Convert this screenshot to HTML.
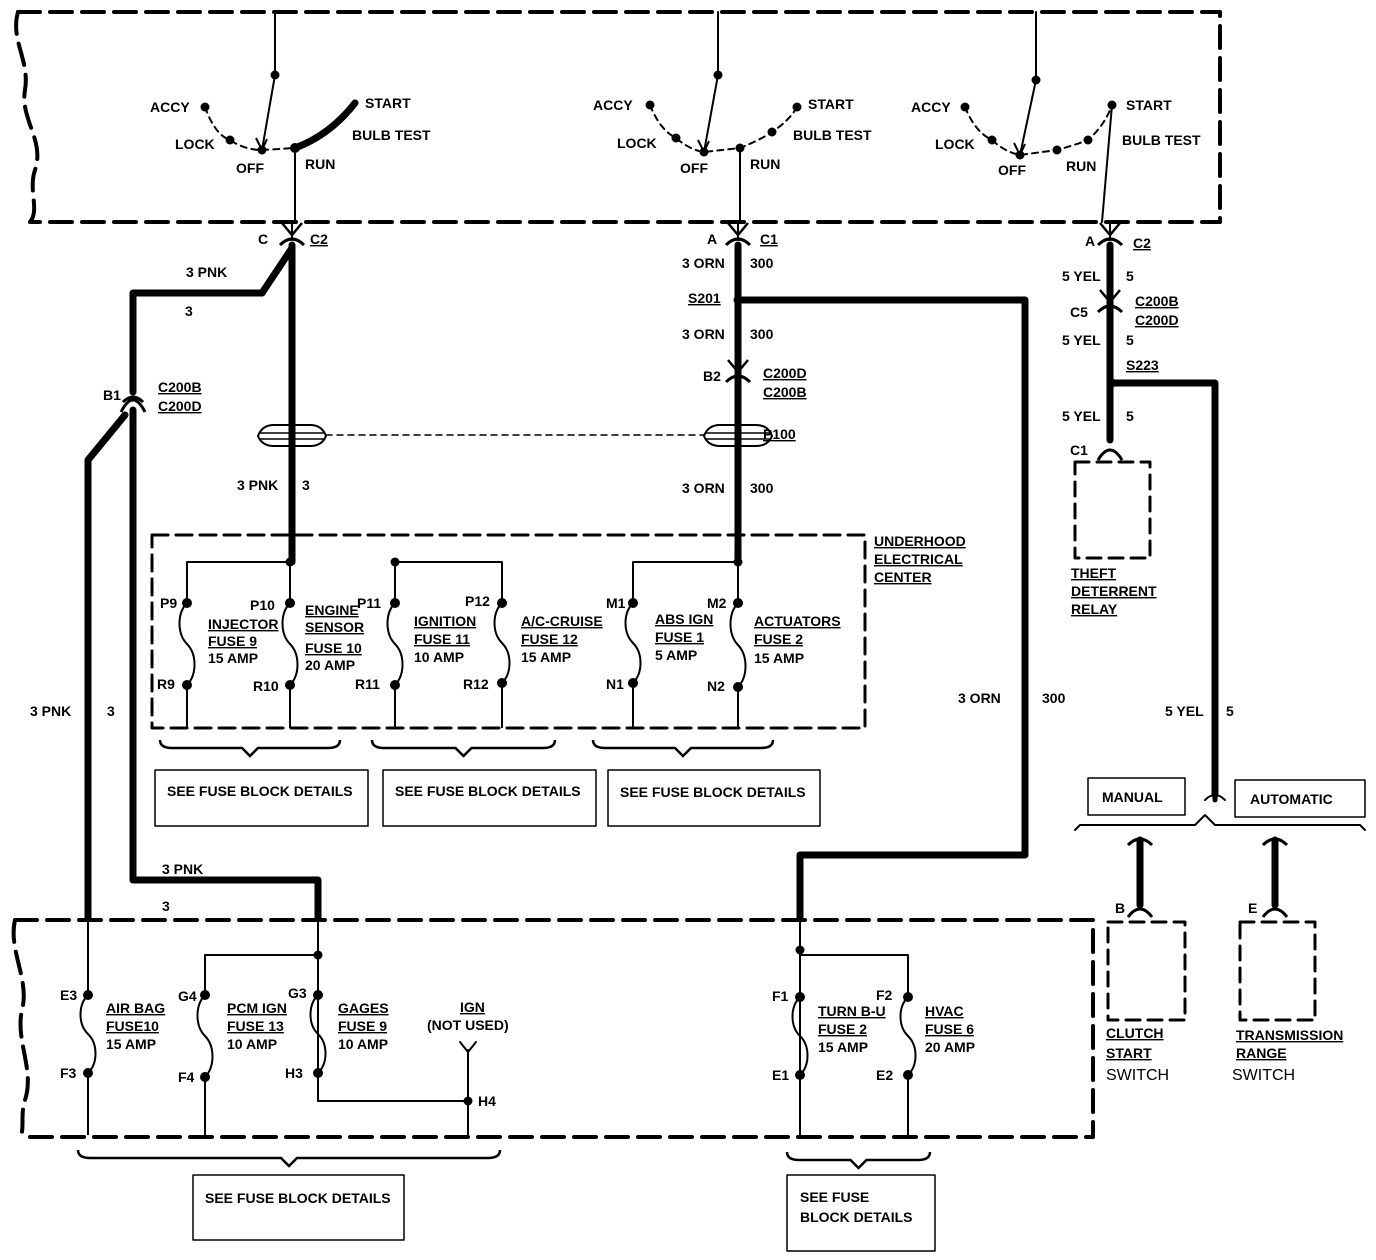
<!DOCTYPE html>
<html><head><meta charset="utf-8"><style>
html,body{margin:0;padding:0;background:#fff}
svg{display:block}
text{font-family:"Liberation Sans",sans-serif;font-weight:bold;font-size:14px;fill:#000}
.u{text-decoration:underline}
</style></head><body>
<svg id="s" width="1376" height="1260" viewBox="0 0 1376 1260" xmlns="http://www.w3.org/2000/svg">
<g fill="none" stroke="#000" stroke-linecap="round" stroke-linejoin="round">
<path d="M18,12 L1220,12 L1220,222 L30,222" stroke-width="4" stroke-dasharray="22,10"/>
<path d="M18,12 C10,40 30,60 25,90 C20,120 45,140 35,170 C28,190 40,210 30,222" stroke-width="4" stroke-dasharray="22,10"/>
<path d="M15,920 L1093,920 L1093,1137 L20,1137" stroke-width="4" stroke-dasharray="22,10"/>
<path d="M15,920 C8,950 30,980 22,1010 C15,1040 35,1070 25,1100 C20,1115 25,1130 20,1137" stroke-width="4" stroke-dasharray="22,10"/>
<path d="M152,535 L865,535 L865,728 L152,728 Z" stroke-width="3" stroke-dasharray="16,8"/>
<rect x="1075" y="462" width="75" height="96" stroke-width="3" stroke-dasharray="14,8"/>
<rect x="1108" y="922" width="77" height="98" stroke-width="3" stroke-dasharray="14,8"/>
<rect x="1240" y="922" width="75" height="98" stroke-width="3" stroke-dasharray="14,8"/>

<path d="M275,12 L275,75 L262,150" stroke-width="2"/>
<path d="M205,107 Q215,135 230,140 Q245,150 262,150 L295,148" stroke-width="2" stroke-dasharray="6,5"/>
<path d="M295,148 Q330,135 355,103" stroke-width="7"/>
<path d="M295,148 L295,222" stroke-width="2"/>
<path d="M718,12 L718,75 L704,152" stroke-width="2"/>
<path d="M650,105 Q660,130 676,138 Q690,150 704,152 L740,148 Q760,140 772,132 Q790,120 797,107" stroke-width="2" stroke-dasharray="6,5"/>
<path d="M740,148 L740,222" stroke-width="2"/>
<path d="M1036,12 L1036,80 L1020,155" stroke-width="2"/>
<path d="M965,107 Q975,132 992,140 Q1005,152 1020,155 L1057,150 Q1075,145 1088,140 Q1105,125 1112,105" stroke-width="2" stroke-dasharray="6,5"/>
<path d="M1112,105 L1102,222" stroke-width="2"/>

<path d="M292,222 L292,240 M738,222 L738,240 M1110,222 L1110,240" stroke-width="2"/>

<path d="M292,245 L292,562" stroke-width="7"/>
<path d="M292,248 L262,293 L133,293 L133,392" stroke-width="7"/>
<path d="M133,410 L133,880 L318,880 L318,918" stroke-width="7"/>
<path d="M125,415 L88,460 L88,918" stroke-width="7"/>
<path d="M738,245 L738,562" stroke-width="7"/>
<path d="M738,300 L1025,300 L1025,855 L800,855 L800,918" stroke-width="7"/>
<path d="M1110,245 L1110,440" stroke-width="7"/>
<path d="M1112,383 L1215,383 L1215,795" stroke-width="7"/>
<path d="M1140,840 L1140,905 M1275,840 L1275,905" stroke-width="7"/>
<path d="M326,435 L704,435" stroke-width="1.5" stroke-dasharray="6,5"/>

<path d="M187,562 L290,562 M395,562 L502,562 M633,562 L738,562" stroke-width="2"/>
<path d="M205,955 L318,955 M800,955 L908,955" stroke-width="2"/>
<path d="M318,920 L318,1101 L468,1101 M468,1050 L468,1135" stroke-width="2"/>
<path d="M460,1042 L468,1052 L476,1042" stroke-width="2"/>
<path d="M800,918 L800,1135" stroke-width="2"/>

<rect x="155" y="770" width="213" height="56" stroke-width="1.5"/>
<rect x="383" y="770" width="213" height="56" stroke-width="1.5"/>
<rect x="608" y="770" width="212" height="56" stroke-width="1.5"/>
<rect x="193" y="1175" width="211" height="65" stroke-width="1.5"/>
<rect x="787" y="1175" width="148" height="76" stroke-width="1.5"/>
<rect x="1088" y="778" width="97" height="37" stroke-width="1.5"/>
<rect x="1235" y="780" width="130" height="37" stroke-width="1.5"/>
<path d="M1075,830 L1080,825 L1195,825 L1205,815 L1215,825 L1360,825 L1365,830" stroke-width="2"/>
<path d="M1205,800 Q1215,790 1225,800" stroke-width="2"/>
<path d="M1215,795 L1215,800" stroke-width="5"/>
</g>
<g id="dyn"></g>

<g>
<text x="150" y="112">ACCY</text><text x="175" y="149">LOCK</text><text x="236" y="173">OFF</text>
<text x="305" y="169">RUN</text><text x="365" y="108">START</text><text x="352" y="140">BULB TEST</text>
<text x="593" y="110">ACCY</text><text x="617" y="148">LOCK</text><text x="680" y="173">OFF</text>
<text x="750" y="169">RUN</text><text x="808" y="109">START</text><text x="793" y="140">BULB TEST</text>
<text x="911" y="112">ACCY</text><text x="935" y="149">LOCK</text><text x="998" y="175">OFF</text>
<text x="1066" y="171">RUN</text><text x="1126" y="110">START</text><text x="1122" y="145">BULB TEST</text>

<text x="258" y="244">C</text><text x="310" y="244" class="u">C2</text>
<text x="707" y="244">A</text><text x="760" y="244" class="u">C1</text>
<text x="1085" y="246">A</text><text x="1133" y="248" class="u">C2</text>
<text x="186" y="277">3 PNK</text><text x="185" y="316">3</text>
<text x="682" y="268">3 ORN</text><text x="750" y="268">300</text>
<text x="688" y="303" class="u">S201</text>
<text x="682" y="339">3 ORN</text><text x="750" y="339">300</text>
<text x="703" y="381">B2</text><text x="763" y="378" class="u">C200D</text><text x="763" y="397" class="u">C200B</text>
<text x="763" y="439" class="u">P100</text>
<text x="682" y="493">3 ORN</text><text x="750" y="493">300</text>
<text x="237" y="490">3 PNK</text><text x="302" y="490">3</text>
<text x="103" y="400">B1</text><text x="158" y="392" class="u">C200B</text><text x="158" y="411" class="u">C200D</text>
<text x="1062" y="281">5 YEL</text><text x="1126" y="281">5</text>
<text x="1070" y="317">C5</text><text x="1135" y="306" class="u">C200B</text><text x="1135" y="325" class="u">C200D</text>
<text x="1062" y="345">5 YEL</text><text x="1126" y="345">5</text>
<text x="1126" y="370" class="u">S223</text>
<text x="1062" y="421">5 YEL</text><text x="1126" y="421">5</text>
<text x="1070" y="455">C1</text>
<text x="1071" y="578" class="u">THEFT</text><text x="1071" y="596" class="u">DETERRENT</text><text x="1071" y="614" class="u">RELAY</text>
<text x="874" y="546" class="u">UNDERHOOD</text><text x="874" y="564" class="u">ELECTRICAL</text><text x="874" y="582" class="u">CENTER</text>
<text x="30" y="716">3  PNK</text><text x="107" y="716">3</text>
<text x="958" y="703">3  ORN</text><text x="1042" y="703">300</text>
<text x="1165" y="716">5 YEL</text><text x="1226" y="716">5</text>

<text x="160" y="608">P9</text><text x="157" y="689">R9</text>
<text x="250" y="610">P10</text><text x="253" y="691">R10</text>
<text x="357" y="608">P11</text><text x="355" y="689">R11</text>
<text x="465" y="606">P12</text><text x="463" y="689">R12</text>
<text x="606" y="608">M1</text><text x="606" y="689">N1</text>
<text x="707" y="608">M2</text><text x="707" y="691">N2</text>
<text x="208" y="629" class="u">INJECTOR</text><text x="208" y="646" class="u">FUSE 9</text><text x="208" y="663">15  AMP</text>
<text x="305" y="615" class="u">ENGINE</text><text x="305" y="632" class="u">SENSOR</text><text x="305" y="653" class="u">FUSE  10</text><text x="305" y="670">20  AMP</text>
<text x="414" y="626" class="u">IGNITION</text><text x="414" y="644" class="u">FUSE 11</text><text x="414" y="662">10 AMP</text>
<text x="521" y="626" class="u">A/C-CRUISE</text><text x="521" y="644" class="u">FUSE 12</text><text x="521" y="662">15  AMP</text>
<text x="655" y="624" class="u">ABS IGN</text><text x="655" y="642" class="u">FUSE 1</text><text x="655" y="660">5 AMP</text>
<text x="754" y="626" class="u">ACTUATORS</text><text x="754" y="644" class="u">FUSE  2</text><text x="754" y="663">15  AMP</text>

<text x="167" y="796">SEE FUSE BLOCK DETAILS</text>
<text x="395" y="796">SEE FUSE BLOCK DETAILS</text>
<text x="620" y="797">SEE FUSE BLOCK DETAILS</text>
<text x="162" y="874">3 PNK</text><text x="162" y="911">3</text>

<text x="60" y="1000">E3</text><text x="60" y="1078">F3</text>
<text x="178" y="1001">G4</text><text x="178" y="1082">F4</text>
<text x="288" y="998">G3</text><text x="285" y="1078">H3</text>
<text x="478" y="1106">H4</text>
<text x="772" y="1001">F1</text><text x="772" y="1080">E1</text>
<text x="876" y="1000">F2</text><text x="876" y="1080">E2</text>
<text x="106" y="1013" class="u">AIR BAG</text><text x="106" y="1031" class="u">FUSE10</text><text x="106" y="1049">15 AMP</text>
<text x="227" y="1013" class="u">PCM IGN</text><text x="227" y="1031" class="u">FUSE 13</text><text x="227" y="1049">10 AMP</text>
<text x="338" y="1013" class="u">GAGES</text><text x="338" y="1031" class="u">FUSE 9</text><text x="338" y="1049">10 AMP</text>
<text x="460" y="1012" class="u">IGN</text><text x="427" y="1030">(NOT USED)</text>
<text x="818" y="1016" class="u">TURN B-U</text><text x="818" y="1034" class="u">FUSE 2</text><text x="818" y="1052">15  AMP</text>
<text x="925" y="1016" class="u">HVAC</text><text x="925" y="1034" class="u">FUSE 6</text><text x="925" y="1052">20  AMP</text>
<text x="205" y="1203">SEE FUSE BLOCK DETAILS</text>
<text x="800" y="1202">SEE FUSE</text><text x="800" y="1222">BLOCK DETAILS</text>
<text x="1102" y="802">MANUAL</text><text x="1250" y="804">AUTOMATIC</text>
<text x="1115" y="913">B</text><text x="1248" y="913">E</text>
<text x="1106" y="1038" class="u">CLUTCH</text><text x="1106" y="1058" class="u">START</text><text x="1106" y="1080" style="font-weight:normal;font-size:16px">SWITCH</text>
<text x="1236" y="1040" class="u">TRANSMISSION</text><text x="1236" y="1058" class="u">RANGE</text><text x="1232" y="1080" style="font-weight:normal;font-size:16px">SWITCH</text>
</g>
</svg>
<script>
var NS="http://www.w3.org/2000/svg",g=document.getElementById("dyn");
function el(t,a){var e=document.createElementNS(NS,t);for(var k in a)e.setAttribute(k,a[k]);g.appendChild(e);return e;}
function dot(x,y,r){el("circle",{cx:x,cy:y,r:r||5,fill:"#000"});}
function fuse(x,y1,y2,bot){
  el("path",{d:"M"+x+","+bot[0]+" L"+x+","+y1,stroke:"#000","stroke-width":2,fill:"none"});
  var m=(y1+y2)/2,h=(y2-y1)/4;
  el("path",{d:"M"+x+","+y1+" C"+(x-10)+","+(y1+h*0.5)+" "+(x-10)+","+(y1+h*1.5)+" "+x+","+m+" C"+(x+10)+","+(m+h*0.5)+" "+(x+10)+","+(m+h*1.5)+" "+x+","+y2,stroke:"#000","stroke-width":2,fill:"none"});
  el("path",{d:"M"+x+","+y2+" L"+x+","+bot[1],stroke:"#000","stroke-width":2,fill:"none"});
  dot(x,y1);dot(x,y2);
}
[[187,603,685],[290,603,685],[395,603,685],[502,603,683],[633,603,683],[738,603,687]].forEach(function(f){fuse(f[0],f[1],f[2],[562,728]);});
fuse(88,995,1073,[918,1135]);fuse(205,995,1077,[955,1135]);fuse(318,995,1073,[955,1073]);
fuse(800,997,1075,[955,1135]);fuse(908,997,1075,[955,1135]);
[[290,562],[395,562],[738,562],[318,955],[800,950],[468,1101],[738,300],[1112,383],[275,75],[718,75],[1036,80],
 [205,107],[230,140],[262,150],[650,105],[676,138],[704,152],[740,148],[772,132],[797,107],[965,107],[992,140],[1020,155],[1057,150],[1088,140],[1112,105]].forEach(function(d){dot(d[0],d[1],d[2]||4.5);});
dot(295,148,5);
[[262,150],[704,152],[1020,155]].forEach(function(p){el("path",{d:"M"+(p[0]-6)+","+(p[1]-12)+" L"+p[0]+","+p[1]+" L"+(p[0]+5)+","+(p[1]-11),stroke:"#000","stroke-width":2,fill:"none"});});
function conn(x,y){el("path",{d:"M"+(x-10)+","+(y-12)+" L"+x+","+y+" L"+(x+10)+","+(y-12),stroke:"#000","stroke-width":2.5,fill:"none"});
 el("path",{d:"M"+(x-12)+","+(y+10)+" Q"+x+","+(y-2)+" "+(x+12)+","+(y+10),stroke:"#000","stroke-width":3,fill:"none"});}
conn(292,235);conn(738,235);conn(1110,235);conn(738,372);conn(1110,302);
el("path",{d:"M121,412 Q133,388 145,412 M123,402 Q133,392 143,402",stroke:"#000","stroke-width":3,fill:"none"});
el("path",{d:"M1098,460 Q1110,440 1122,460",stroke:"#000","stroke-width":3,fill:"none"});
[[1140,905],[1275,905]].forEach(function(p){el("path",{d:"M"+(p[0]-12)+","+(p[1]+12)+" Q"+p[0]+","+(p[1]-4)+" "+(p[0]+12)+","+(p[1]+12),stroke:"#000","stroke-width":3,fill:"none"});
 el("path",{d:"M"+(p[0]-12)+","+(p[1]-60)+" Q"+p[0]+","+(p[1]-72)+" "+(p[0]+12)+","+(p[1]-60),stroke:"#000","stroke-width":3,fill:"none"});});
[[292,436],[738,436]].forEach(function(p){var x=p[0],y=p[1];
 el("path",{d:"M"+(x-34)+","+y+" Q"+(x-30)+","+(y-11)+" "+(x-18)+","+(y-11)+" L"+(x+18)+","+(y-11)+" Q"+(x+30)+","+(y-11)+" "+(x+34)+","+y+" Q"+(x+30)+","+(y+10)+" "+(x+18)+","+(y+10)+" L"+(x-18)+","+(y+10)+" Q"+(x-30)+","+(y+10)+" "+(x-34)+","+y+" Z",stroke:"#000","stroke-width":2,fill:"#fff"});
 el("path",{d:"M"+(x-32)+","+(y-3)+" L"+(x+32)+","+(y-3)+" M"+(x-32)+","+(y+3)+" L"+(x+32)+","+(y+3),stroke:"#000","stroke-width":1.5});
 el("path",{d:"M"+x+","+(y-11)+" L"+x+","+(y+10),stroke:"#000","stroke-width":7});});
function brace(x1,x2,y){var m=(x1+x2)/2;el("path",{d:"M"+x1+","+(y-8)+" Q"+x1+","+y+" "+(x1+12)+","+y+" L"+(m-8)+","+y+" L"+m+","+(y+8)+" L"+(m+8)+","+y+" L"+(x2-12)+","+y+" Q"+x2+","+y+" "+x2+","+(y-8),stroke:"#000","stroke-width":2.5,fill:"none"});}
brace(160,340,748);brace(372,555,748);brace(593,773,748);brace(78,500,1158);brace(787,930,1160);
</script>
</body></html>
